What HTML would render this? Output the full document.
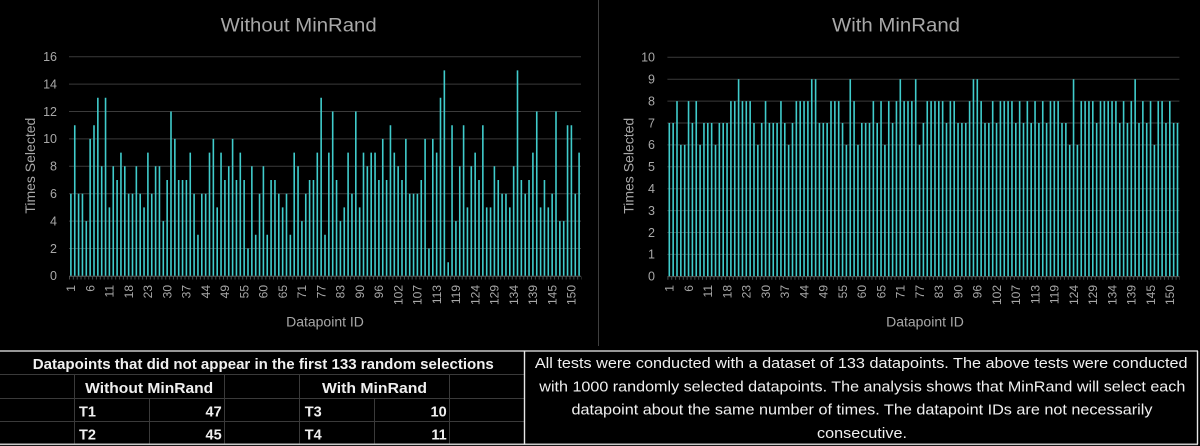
<!DOCTYPE html>
<html>
<head>
<meta charset="utf-8">
<style>
html,body{margin:0;padding:0;background:#000;}
body{width:1200px;height:446px;overflow:hidden;}
svg{display:block;}
text{font-family:"Liberation Sans",sans-serif;}
</style>
</head>
<body>
<svg width="1200" height="446" viewBox="0 0 1200 446" xmlns="http://www.w3.org/2000/svg">
<rect width="1200" height="446" fill="#000"/>

<!-- separator -->
<line x1="598.5" y1="0" x2="598.5" y2="346" stroke="#3f3f3f" stroke-width="1"/>

<!-- ============ LEFT CHART ============ -->
<text x="298.7" y="31.5" text-anchor="middle" font-size="19.5" fill="#a8a8a8" textLength="156" lengthAdjust="spacingAndGlyphs">Without MinRand</text>
<g stroke="#3b3b3b" stroke-width="1">
<line x1="69" y1="56.7" x2="581" y2="56.7"/>
<line x1="69" y1="84.1" x2="581" y2="84.1"/>
<line x1="69" y1="111.5" x2="581" y2="111.5"/>
<line x1="69" y1="138.9" x2="581" y2="138.9"/>
<line x1="69" y1="166.3" x2="581" y2="166.3"/>
<line x1="69" y1="193.7" x2="581" y2="193.7"/>
<line x1="69" y1="221.1" x2="581" y2="221.1"/>
<line x1="69" y1="248.5" x2="581" y2="248.5"/>
</g>
<g font-size="12.5" fill="#a8a8a8" text-anchor="end">
<text x="57" y="61.0">16</text>
<text x="57" y="88.4">14</text>
<text x="57" y="115.8">12</text>
<text x="57" y="143.2">10</text>
<text x="57" y="170.6">8</text>
<text x="57" y="198">6</text>
<text x="57" y="225.4">4</text>
<text x="57" y="252.8">2</text>
<text x="57" y="280.2">0</text>
</g>
<text transform="translate(35,165.7) rotate(-90)" text-anchor="middle" font-size="14" fill="#a8a8a8">Times Selected</text>
<text x="325" y="326.5" text-anchor="middle" font-size="14" fill="#a8a8a8">Datapoint ID</text>

<g transform="translate(70.9,275.9) scale(3.85,-13.7)">
<path fill="none" stroke="#40cccc" stroke-width="0.4156" d="M0 0V6M1 0V11M2 0V6M3 0V6M4 0V4M5 0V10M6 0V11M7 0V13M8 0V8M9 0V13M10 0V5M11 0V8M12 0V7M13 0V9M14 0V8M15 0V6M16 0V6M17 0V8M18 0V6M19 0V5M20 0V9M21 0V6M22 0V8M23 0V8M24 0V4M25 0V7M26 0V12M27 0V10M28 0V7M29 0V7M30 0V7M31 0V9M32 0V6M33 0V3M34 0V6M35 0V6M36 0V9M37 0V10M38 0V5M39 0V9M40 0V7M41 0V8M42 0V10M43 0V7M44 0V9M45 0V7M46 0V2M47 0V8M48 0V3M49 0V6M50 0V8M51 0V3M52 0V7M53 0V7M54 0V6M55 0V5M56 0V6M57 0V3M58 0V9M59 0V8M60 0V4M61 0V6M62 0V7M63 0V7M64 0V9M65 0V13M66 0V3M67 0V9M68 0V12M69 0V7M70 0V4M71 0V5M72 0V9M73 0V6M74 0V12M75 0V5M76 0V9M77 0V8M78 0V9M79 0V9M80 0V7M81 0V10M82 0V7M83 0V11M84 0V9M85 0V8M86 0V7M87 0V10M88 0V6M89 0V6M90 0V6M91 0V7M92 0V10M93 0V2M94 0V10M95 0V9M96 0V13M97 0V15M98 0V1M99 0V11M100 0V4M101 0V8M102 0V11M103 0V5M104 0V8M105 0V9M106 0V7M107 0V11M108 0V5M109 0V5M110 0V8M111 0V7M112 0V6M113 0V6M114 0V5M115 0V8M116 0V15M117 0V7M118 0V6M119 0V7M120 0V9M121 0V12M122 0V5M123 0V7M124 0V5M125 0V6M126 0V12M127 0V4M128 0V4M129 0V11M130 0V11M131 0V6M132 0V9"/>
</g>
<line x1="69" y1="276.3" x2="581" y2="276.3" stroke="#5a5a5a" stroke-width="1"/>
<line x1="69" y1="278" x2="581.5" y2="278" stroke="#4a4a4a" stroke-width="3" stroke-dasharray="1 2.85"/>

<g transform="translate(75.2,285) rotate(-90)" text-anchor="end" font-size="12" fill="#a8a8a8">
<text x="0" y="0">1</text>
<text x="0" y="19.25">6</text>
<text x="0" y="38.5">11</text>
<text x="0" y="57.75">18</text>
<text x="0" y="77">23</text>
<text x="0" y="96.25">30</text>
<text x="0" y="115.5">37</text>
<text x="0" y="134.75">44</text>
<text x="0" y="154">49</text>
<text x="0" y="173.25">55</text>
<text x="0" y="192.5">60</text>
<text x="0" y="211.75">65</text>
<text x="0" y="231">71</text>
<text x="0" y="250.25">77</text>
<text x="0" y="269.5">83</text>
<text x="0" y="288.75">90</text>
<text x="0" y="308">96</text>
<text x="0" y="327.25">102</text>
<text x="0" y="346.5">107</text>
<text x="0" y="365.75">113</text>
<text x="0" y="385">119</text>
<text x="0" y="404.25">124</text>
<text x="0" y="423.5">129</text>
<text x="0" y="442.75">134</text>
<text x="0" y="462">139</text>
<text x="0" y="481.25">145</text>
<text x="0" y="500.5">150</text>
</g>

<!-- ============ RIGHT CHART ============ -->
<text x="896" y="31.5" text-anchor="middle" font-size="19.5" fill="#a8a8a8" textLength="128" lengthAdjust="spacingAndGlyphs">With MinRand</text>
<g stroke="#3b3b3b" stroke-width="1">
<line x1="667.4" y1="57.3" x2="1179.4" y2="57.3"/>
<line x1="667.4" y1="79.2" x2="1179.4" y2="79.2"/>
<line x1="667.4" y1="101.1" x2="1179.4" y2="101.1"/>
<line x1="667.4" y1="123" x2="1179.4" y2="123"/>
<line x1="667.4" y1="144.9" x2="1179.4" y2="144.9"/>
<line x1="667.4" y1="166.8" x2="1179.4" y2="166.8"/>
<line x1="667.4" y1="188.7" x2="1179.4" y2="188.7"/>
<line x1="667.4" y1="210.6" x2="1179.4" y2="210.6"/>
<line x1="667.4" y1="232.5" x2="1179.4" y2="232.5"/>
<line x1="667.4" y1="254.4" x2="1179.4" y2="254.4"/>
</g>
<g font-size="12.5" fill="#a8a8a8" text-anchor="end">
<text x="655" y="61.6">10</text>
<text x="655" y="83.5">9</text>
<text x="655" y="105.4">8</text>
<text x="655" y="127.3">7</text>
<text x="655" y="149.2">6</text>
<text x="655" y="171.1">5</text>
<text x="655" y="193">4</text>
<text x="655" y="214.9">3</text>
<text x="655" y="236.8">2</text>
<text x="655" y="258.7">1</text>
<text x="655" y="280.6">0</text>
</g>
<text transform="translate(633.5,165.8) rotate(-90)" text-anchor="middle" font-size="14" fill="#a8a8a8">Times Selected</text>
<text x="925" y="326.5" text-anchor="middle" font-size="14" fill="#a8a8a8">Datapoint ID</text>

<g transform="translate(669.3,276.3) scale(3.85,-21.9)">
<path fill="none" stroke="#40cccc" stroke-width="0.4156" d="M0 0V7M1 0V7M2 0V8M3 0V6M4 0V6M5 0V8M6 0V7M7 0V8M8 0V6M9 0V7M10 0V7M11 0V7M12 0V6M13 0V7M14 0V7M15 0V7M16 0V8M17 0V8M18 0V9M19 0V8M20 0V8M21 0V8M22 0V7M23 0V6M24 0V7M25 0V8M26 0V7M27 0V7M28 0V7M29 0V8M30 0V7M31 0V6M32 0V7M33 0V8M34 0V8M35 0V8M36 0V8M37 0V9M38 0V9M39 0V7M40 0V7M41 0V7M42 0V8M43 0V8M44 0V8M45 0V7M46 0V6M47 0V9M48 0V8M49 0V6M50 0V7M51 0V7M52 0V7M53 0V8M54 0V7M55 0V8M56 0V6M57 0V8M58 0V7M59 0V8M60 0V9M61 0V8M62 0V8M63 0V8M64 0V9M65 0V6M66 0V7M67 0V8M68 0V8M69 0V8M70 0V8M71 0V8M72 0V7M73 0V8M74 0V8M75 0V7M76 0V7M77 0V7M78 0V8M79 0V9M80 0V9M81 0V8M82 0V7M83 0V7M84 0V8M85 0V7M86 0V8M87 0V8M88 0V8M89 0V8M90 0V7M91 0V8M92 0V7M93 0V8M94 0V7M95 0V8M96 0V7M97 0V8M98 0V7M99 0V8M100 0V8M101 0V8M102 0V7M103 0V7M104 0V6M105 0V9M106 0V6M107 0V8M108 0V8M109 0V8M110 0V8M111 0V7M112 0V8M113 0V8M114 0V8M115 0V8M116 0V8M117 0V7M118 0V8M119 0V7M120 0V8M121 0V9M122 0V7M123 0V8M124 0V7M125 0V8M126 0V6M127 0V8M128 0V8M129 0V7M130 0V8M131 0V7M132 0V7"/>
</g>
<line x1="667.4" y1="276.6" x2="1179.4" y2="276.6" stroke="#5a5a5a" stroke-width="1"/>
<line x1="667.4" y1="278.3" x2="1179.9" y2="278.3" stroke="#4a4a4a" stroke-width="3" stroke-dasharray="1 2.85"/>

<g transform="translate(673.6,285) rotate(-90)" text-anchor="end" font-size="12" fill="#a8a8a8">
<text x="0" y="0">1</text>
<text x="0" y="19.25">6</text>
<text x="0" y="38.5">11</text>
<text x="0" y="57.75">18</text>
<text x="0" y="77">23</text>
<text x="0" y="96.25">30</text>
<text x="0" y="115.5">37</text>
<text x="0" y="134.75">44</text>
<text x="0" y="154">49</text>
<text x="0" y="173.25">55</text>
<text x="0" y="192.5">60</text>
<text x="0" y="211.75">65</text>
<text x="0" y="231">71</text>
<text x="0" y="250.25">77</text>
<text x="0" y="269.5">83</text>
<text x="0" y="288.75">90</text>
<text x="0" y="308">96</text>
<text x="0" y="327.25">102</text>
<text x="0" y="346.5">107</text>
<text x="0" y="365.75">113</text>
<text x="0" y="385">119</text>
<text x="0" y="404.25">124</text>
<text x="0" y="423.5">129</text>
<text x="0" y="442.75">134</text>
<text x="0" y="462">139</text>
<text x="0" y="481.25">145</text>
<text x="0" y="500.5">150</text>
</g>

<!-- ============ TABLE ============ -->
<g stroke="#3a3a3a" stroke-width="1">
<line x1="0" y1="374.5" x2="524" y2="374.5"/>
<line x1="0" y1="398.5" x2="524" y2="398.5"/>
<line x1="0" y1="421.5" x2="524" y2="421.5"/>
<line x1="74.5" y1="374.5" x2="74.5" y2="444"/>
<line x1="149.5" y1="398.5" x2="149.5" y2="444"/>
<line x1="224.5" y1="374.5" x2="224.5" y2="444"/>
<line x1="299.5" y1="374.5" x2="299.5" y2="444"/>
<line x1="374.5" y1="398.5" x2="374.5" y2="444"/>
<line x1="449.5" y1="374.5" x2="449.5" y2="444"/>
</g>
<g stroke="#c8c8c8" stroke-width="1.6">
<line x1="0" y1="351" x2="1198" y2="351"/>
<line x1="0" y1="444.3" x2="1198" y2="444.3"/>
</g>
<g stroke="#e6e6e6" stroke-width="1.4">
<line x1="524.5" y1="351" x2="524.5" y2="444.3"/>
<line x1="1197.5" y1="351" x2="1197.5" y2="444.3"/>
</g>

<g font-size="14.5" font-weight="bold" fill="#f0f0f0">
<text x="263.3" y="369" text-anchor="middle" textLength="461" lengthAdjust="spacingAndGlyphs">Datapoints that did not appear in the first 133 random selections</text>
<text x="149.2" y="392.8" text-anchor="middle" textLength="128" lengthAdjust="spacingAndGlyphs">Without MinRand</text>
<text x="374.5" y="392.8" text-anchor="middle" textLength="105" lengthAdjust="spacingAndGlyphs">With MinRand</text>
<text x="79" y="416.5">T1</text>
<text x="221.7" y="416.5" text-anchor="end">47</text>
<text x="304.8" y="416.5">T3</text>
<text x="446.7" y="416.5" text-anchor="end">10</text>
<text x="79" y="439.3">T2</text>
<text x="221.7" y="439.3" text-anchor="end">45</text>
<text x="304.8" y="439.3">T4</text>
<text x="446.7" y="439.3" text-anchor="end">11</text>
</g>

<g font-size="14.5" fill="#f0f0f0" text-anchor="middle">
<text x="861.2" y="368" textLength="652.7" lengthAdjust="spacingAndGlyphs">All tests were conducted with a dataset of 133 datapoints. The above tests were conducted</text>
<text x="862.3" y="391.3" textLength="646" lengthAdjust="spacingAndGlyphs">with 1000 randomly selected datapoints. The analysis shows that MinRand will select each</text>
<text x="862" y="414.6" textLength="581" lengthAdjust="spacingAndGlyphs">datapoint about the same number of times. The datapoint IDs are not necessarily</text>
<text x="862" y="438" textLength="90" lengthAdjust="spacingAndGlyphs">consecutive.</text>
</g>
</svg>
</body>
</html>
